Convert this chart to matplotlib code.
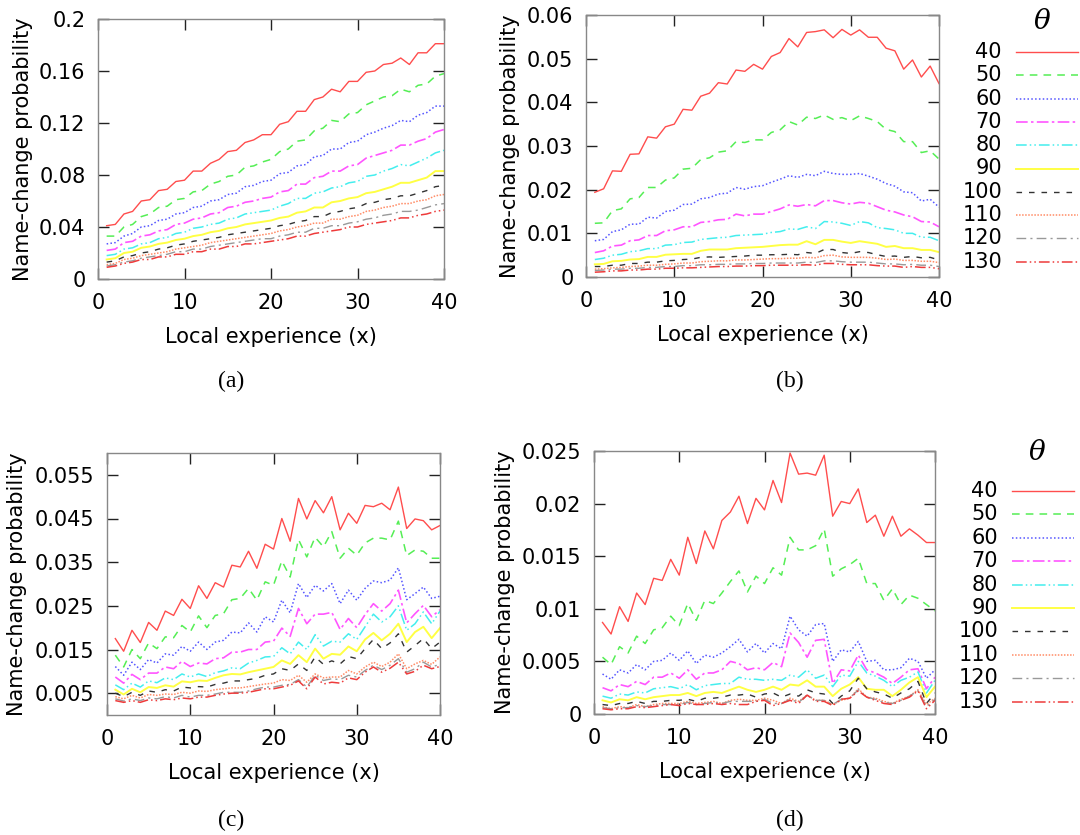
import matplotlib
matplotlib.use("Agg")
import matplotlib.pyplot as plt
import numpy as np

plt.rcParams['mathtext.fontset'] = 'dejavuserif'

x_exp = list(range(1, 41))
thetas = ["40", "50", "60", "70", "80", "90", "100", "110", "120", "130"]

# ---------------- panel (a) ----------------
a_40 = [0.041,0.042,0.050,0.052,0.060,0.061,0.068,0.069,0.075,0.076,0.083,0.083,0.089,0.092,0.098,0.099,0.105,0.107,0.111,0.111,
        0.119,0.121,0.129,0.129,0.138,0.140,0.146,0.144,0.152,0.152,0.159,0.160,0.165,0.166,0.170,0.165,0.174,0.174,0.181,0.181]
a_50 = [0.033,0.033,0.040,0.042,0.048,0.050,0.055,0.056,0.061,0.062,0.067,0.068,0.073,0.075,0.079,0.080,0.086,0.087,0.090,0.092,
        0.098,0.100,0.106,0.107,0.114,0.116,0.122,0.121,0.127,0.128,0.134,0.137,0.140,0.141,0.146,0.144,0.149,0.150,0.156,0.158]
a_60 = [0.027,0.028,0.033,0.035,0.040,0.041,0.045,0.046,0.050,0.051,0.055,0.056,0.060,0.061,0.065,0.066,0.071,0.072,0.075,0.076,
        0.081,0.082,0.087,0.088,0.094,0.095,0.100,0.100,0.105,0.106,0.111,0.113,0.116,0.118,0.122,0.121,0.126,0.128,0.133,0.133]
a_70 = [0.022,0.023,0.028,0.029,0.033,0.034,0.037,0.038,0.042,0.043,0.046,0.047,0.050,0.051,0.055,0.056,0.059,0.060,0.062,0.063,
        0.067,0.068,0.073,0.073,0.078,0.079,0.083,0.083,0.087,0.088,0.093,0.095,0.097,0.099,0.103,0.103,0.106,0.108,0.113,0.115]
a_80 = [0.018,0.019,0.023,0.024,0.027,0.028,0.031,0.032,0.035,0.036,0.039,0.040,0.042,0.043,0.046,0.047,0.050,0.051,0.052,0.053,
        0.056,0.058,0.062,0.062,0.066,0.067,0.070,0.071,0.074,0.075,0.079,0.080,0.083,0.085,0.088,0.087,0.090,0.093,0.097,0.099]
a_90 = [0.015,0.016,0.020,0.021,0.024,0.025,0.027,0.028,0.030,0.031,0.033,0.034,0.036,0.037,0.039,0.040,0.042,0.043,0.044,0.045,
        0.047,0.048,0.051,0.052,0.055,0.055,0.059,0.060,0.062,0.063,0.066,0.067,0.069,0.071,0.074,0.074,0.076,0.078,0.083,0.083]
a_100 = [0.013,0.014,0.017,0.018,0.020,0.021,0.023,0.024,0.026,0.027,0.029,0.030,0.031,0.032,0.034,0.035,0.036,0.037,0.038,0.039,
         0.041,0.042,0.044,0.045,0.048,0.048,0.051,0.052,0.054,0.055,0.058,0.059,0.061,0.062,0.064,0.064,0.066,0.068,0.071,0.072]
a_110 = [0.011,0.012,0.015,0.016,0.018,0.019,0.020,0.021,0.023,0.024,0.025,0.026,0.028,0.029,0.030,0.031,0.032,0.033,0.034,0.035,
         0.037,0.038,0.040,0.041,0.043,0.043,0.046,0.046,0.048,0.049,0.052,0.053,0.055,0.056,0.058,0.058,0.060,0.061,0.064,0.065]
a_120 = [0.010,0.011,0.013,0.014,0.016,0.017,0.018,0.019,0.021,0.021,0.023,0.023,0.025,0.026,0.027,0.028,0.029,0.030,0.031,0.031,
         0.033,0.034,0.036,0.036,0.039,0.039,0.041,0.041,0.043,0.044,0.046,0.047,0.049,0.050,0.052,0.052,0.053,0.055,0.057,0.058]
a_130 = [0.009,0.010,0.012,0.013,0.015,0.015,0.017,0.017,0.019,0.019,0.021,0.021,0.023,0.023,0.025,0.025,0.027,0.027,0.028,0.029,
         0.030,0.031,0.033,0.033,0.035,0.036,0.037,0.038,0.040,0.040,0.042,0.043,0.044,0.045,0.047,0.047,0.049,0.050,0.052,0.053]

# ---------------- panel (b) ----------------
b_40 = [0.0194,0.0202,0.0243,0.0242,0.0281,0.0282,0.0321,0.0318,0.0344,0.0350,0.0384,0.0382,0.0414,0.0421,0.0445,0.0442,0.0474,0.0471,0.0487,0.0476,
        0.0505,0.0514,0.0546,0.0527,0.0560,0.0562,0.0566,0.0548,0.0567,0.0554,0.0566,0.0549,0.0549,0.0524,0.0518,0.0476,0.0497,0.0458,0.0483,0.0443]
b_50 = [0.0123,0.0124,0.0152,0.0156,0.0179,0.0182,0.0205,0.0205,0.0222,0.0227,0.0247,0.0249,0.0269,0.0273,0.0286,0.0289,0.0310,0.0308,0.0314,0.0314,
        0.0331,0.0337,0.0356,0.0348,0.0366,0.0363,0.0371,0.0361,0.0365,0.0358,0.0369,0.0363,0.0356,0.0338,0.0333,0.0310,0.0310,0.0285,0.0289,0.0270]
b_60 = [0.0083,0.0086,0.0104,0.0108,0.0121,0.0121,0.0137,0.0135,0.0150,0.0153,0.0166,0.0167,0.0179,0.0182,0.0190,0.0192,0.0205,0.0201,0.0207,0.0209,
        0.0217,0.0224,0.0232,0.0228,0.0235,0.0232,0.0242,0.0237,0.0235,0.0235,0.0237,0.0231,0.0224,0.0214,0.0208,0.0195,0.0193,0.0174,0.0178,0.0160]
b_70 = [0.0056,0.0060,0.0071,0.0073,0.0083,0.0085,0.0095,0.0095,0.0106,0.0108,0.0115,0.0115,0.0125,0.0127,0.0131,0.0132,0.0144,0.0140,0.0144,0.0144,
        0.0150,0.0156,0.0165,0.0162,0.0166,0.0163,0.0175,0.0175,0.0170,0.0167,0.0171,0.0169,0.0161,0.0153,0.0149,0.0142,0.0138,0.0127,0.0126,0.0115]
b_80 = [0.0040,0.0043,0.0050,0.0052,0.0058,0.0060,0.0065,0.0065,0.0073,0.0074,0.0079,0.0080,0.0086,0.0088,0.0090,0.0091,0.0095,0.0096,0.0097,0.0098,
        0.0102,0.0104,0.0110,0.0109,0.0115,0.0111,0.0127,0.0126,0.0123,0.0118,0.0127,0.0124,0.0113,0.0111,0.0108,0.0100,0.0100,0.0091,0.0091,0.0083]
b_90 = [0.0029,0.0030,0.0036,0.0037,0.0040,0.0041,0.0046,0.0046,0.0051,0.0052,0.0053,0.0053,0.0060,0.0063,0.0063,0.0063,0.0066,0.0067,0.0068,0.0069,
        0.0071,0.0073,0.0074,0.0074,0.0082,0.0075,0.0085,0.0085,0.0081,0.0078,0.0082,0.0079,0.0076,0.0069,0.0071,0.0066,0.0066,0.0062,0.0062,0.0057]
b_100 = [0.0024,0.0024,0.0027,0.0027,0.0031,0.0031,0.0034,0.0034,0.0037,0.0038,0.0040,0.0041,0.0045,0.0046,0.0045,0.0046,0.0047,0.0048,0.0050,0.0050,
         0.0051,0.0051,0.0052,0.0051,0.0056,0.0054,0.0063,0.0063,0.0056,0.0054,0.0058,0.0056,0.0051,0.0047,0.0048,0.0045,0.0047,0.0044,0.0045,0.0039]
b_110 = [0.0018,0.0019,0.0021,0.0022,0.0024,0.0025,0.0027,0.0027,0.0029,0.0030,0.0032,0.0032,0.0035,0.0036,0.0037,0.0037,0.0039,0.0039,0.0040,0.0041,
         0.0042,0.0042,0.0043,0.0043,0.0045,0.0044,0.0049,0.0050,0.0046,0.0045,0.0045,0.0045,0.0043,0.0040,0.0041,0.0038,0.0038,0.0036,0.0036,0.0033]
b_120 = [0.0015,0.0016,0.0018,0.0018,0.0020,0.0020,0.0022,0.0022,0.0024,0.0024,0.0026,0.0026,0.0028,0.0028,0.0029,0.0029,0.0030,0.0030,0.0031,0.0031,
         0.0032,0.0032,0.0032,0.0032,0.0034,0.0033,0.0037,0.0037,0.0035,0.0034,0.0034,0.0034,0.0032,0.0030,0.0030,0.0028,0.0029,0.0027,0.0027,0.0024]
b_130 = [0.0011,0.0012,0.0014,0.0014,0.0016,0.0016,0.0018,0.0018,0.0020,0.0020,0.0021,0.0021,0.0022,0.0023,0.0024,0.0024,0.0025,0.0025,0.0026,0.0026,
         0.0027,0.0027,0.0027,0.0027,0.0028,0.0027,0.0031,0.0031,0.0029,0.0028,0.0028,0.0028,0.0026,0.0025,0.0025,0.0022,0.0024,0.0022,0.0022,0.0019]

# ---------------- panel (c) ----------------
c_40 = [0.0175,0.0146,0.0194,0.0166,0.0212,0.0194,0.0238,0.0228,0.0265,0.0244,0.0296,0.0267,0.0303,0.0293,0.0343,0.0339,0.0375,0.0336,0.0391,0.0380,
        0.0450,0.0398,0.0496,0.0449,0.0491,0.0463,0.0500,0.0424,0.0462,0.0439,0.0480,0.0477,0.0485,0.0470,0.0522,0.0427,0.0449,0.0445,0.0424,0.0434]
c_50 = [0.0137,0.0110,0.0150,0.0129,0.0165,0.0152,0.0179,0.0177,0.0205,0.0190,0.0227,0.0200,0.0228,0.0232,0.0264,0.0267,0.0290,0.0263,0.0305,0.0297,
        0.0353,0.0316,0.0402,0.0362,0.0407,0.0385,0.0420,0.0359,0.0382,0.0366,0.0394,0.0405,0.0405,0.0401,0.0444,0.0365,0.0378,0.0375,0.0359,0.0359]
c_60 = [0.0111,0.0091,0.0121,0.0104,0.0127,0.0119,0.0140,0.0137,0.0157,0.0146,0.0167,0.0150,0.0167,0.0171,0.0190,0.0188,0.0211,0.0190,0.0225,0.0213,
        0.0263,0.0234,0.0301,0.0269,0.0297,0.0284,0.0301,0.0255,0.0286,0.0263,0.0290,0.0307,0.0303,0.0309,0.0337,0.0264,0.0278,0.0293,0.0267,0.0272]
c_70 = [0.0087,0.0073,0.0093,0.0081,0.0096,0.0096,0.0110,0.0106,0.0123,0.0111,0.0119,0.0117,0.0129,0.0131,0.0144,0.0144,0.0150,0.0150,0.0167,0.0169,
        0.0199,0.0180,0.0244,0.0209,0.0231,0.0231,0.0235,0.0196,0.0221,0.0200,0.0230,0.0255,0.0238,0.0255,0.0286,0.0211,0.0232,0.0251,0.0225,0.0241]
c_80 = [0.0069,0.0058,0.0073,0.0064,0.0078,0.0074,0.0085,0.0081,0.0094,0.0087,0.0094,0.0088,0.0097,0.0101,0.0108,0.0106,0.0119,0.0125,0.0133,0.0134,
        0.0154,0.0140,0.0167,0.0150,0.0184,0.0158,0.0169,0.0167,0.0186,0.0173,0.0202,0.0231,0.0213,0.0225,0.0250,0.0194,0.0209,0.0236,0.0209,0.0238]
c_90 = [0.0058,0.0047,0.0060,0.0052,0.0064,0.0062,0.0068,0.0065,0.0077,0.0075,0.0079,0.0078,0.0085,0.0091,0.0094,0.0093,0.0098,0.0102,0.0106,0.0110,
        0.0125,0.0117,0.0137,0.0121,0.0152,0.0129,0.0140,0.0138,0.0157,0.0146,0.0173,0.0188,0.0171,0.0186,0.0209,0.0167,0.0190,0.0202,0.0176,0.0199]
c_100 = [0.0050,0.0042,0.0052,0.0045,0.0055,0.0052,0.0058,0.0055,0.0064,0.0062,0.0065,0.0064,0.0070,0.0073,0.0078,0.0078,0.0081,0.0084,0.0091,0.0094,
         0.0106,0.0102,0.0117,0.0102,0.0133,0.0116,0.0124,0.0117,0.0134,0.0129,0.0152,0.0173,0.0152,0.0165,0.0186,0.0144,0.0159,0.0175,0.0152,0.0167]
c_110 = [0.0042,0.0037,0.0045,0.0039,0.0047,0.0045,0.0048,0.0047,0.0052,0.0050,0.0055,0.0054,0.0058,0.0060,0.0062,0.0062,0.0065,0.0068,0.0071,0.0073,
         0.0081,0.0079,0.0091,0.0075,0.0094,0.0085,0.0087,0.0087,0.0102,0.0094,0.0110,0.0121,0.0111,0.0121,0.0140,0.0106,0.0117,0.0125,0.0116,0.0133]
c_120 = [0.0037,0.0032,0.0037,0.0033,0.0039,0.0037,0.0042,0.0039,0.0045,0.0041,0.0045,0.0045,0.0048,0.0052,0.0052,0.0052,0.0055,0.0060,0.0064,0.0064,
         0.0068,0.0070,0.0081,0.0064,0.0091,0.0079,0.0083,0.0081,0.0091,0.0087,0.0102,0.0114,0.0104,0.0114,0.0129,0.0098,0.0106,0.0121,0.0110,0.0116]
c_130 = [0.0033,0.0029,0.0033,0.0029,0.0035,0.0033,0.0037,0.0035,0.0039,0.0037,0.0041,0.0041,0.0045,0.0048,0.0050,0.0050,0.0052,0.0056,0.0060,0.0060,
         0.0064,0.0068,0.0078,0.0060,0.0087,0.0071,0.0075,0.0073,0.0085,0.0081,0.0098,0.0110,0.0098,0.0107,0.0121,0.0094,0.0100,0.0114,0.0106,0.0111]

# ---------------- panel (d) ----------------
d_40 = [0.0087,0.0076,0.0102,0.0088,0.0115,0.0104,0.0129,0.0127,0.0147,0.0132,0.0168,0.0143,0.0174,0.0157,0.0184,0.0192,0.0207,0.0181,0.0205,0.0194,
        0.0222,0.0201,0.0248,0.0228,0.0229,0.0227,0.0246,0.0188,0.0202,0.0200,0.0214,0.0182,0.0189,0.0169,0.0188,0.0169,0.0176,0.0170,0.0163,0.0163]
d_50 = [0.0054,0.0047,0.0064,0.0058,0.0074,0.0067,0.0080,0.0082,0.0093,0.0084,0.0105,0.0089,0.0108,0.0105,0.0115,0.0126,0.0136,0.0116,0.0131,0.0124,
        0.0139,0.0132,0.0168,0.0156,0.0156,0.0160,0.0176,0.0131,0.0138,0.0142,0.0148,0.0124,0.0124,0.0108,0.0119,0.0104,0.0113,0.0110,0.0104,0.0098]
d_60 = [0.0038,0.0033,0.0042,0.0039,0.0047,0.0042,0.0050,0.0051,0.0058,0.0051,0.0060,0.0048,0.0056,0.0054,0.0058,0.0064,0.0071,0.0059,0.0067,0.0058,
        0.0067,0.0062,0.0093,0.0080,0.0074,0.0085,0.0086,0.0050,0.0061,0.0059,0.0069,0.0050,0.0051,0.0042,0.0042,0.0044,0.0053,0.0050,0.0034,0.0042]
d_70 = [0.0025,0.0022,0.0028,0.0026,0.0031,0.0028,0.0035,0.0035,0.0039,0.0034,0.0042,0.0033,0.0039,0.0039,0.0042,0.0050,0.0048,0.0042,0.0044,0.0042,
        0.0049,0.0045,0.0077,0.0068,0.0054,0.0070,0.0071,0.0029,0.0042,0.0041,0.0056,0.0042,0.0039,0.0035,0.0029,0.0035,0.0042,0.0043,0.0024,0.0035]
d_80 = [0.0017,0.0015,0.0019,0.0018,0.0021,0.0020,0.0024,0.0025,0.0026,0.0024,0.0028,0.0023,0.0027,0.0028,0.0029,0.0029,0.0035,0.0033,0.0033,0.0032,
        0.0033,0.0032,0.0037,0.0035,0.0042,0.0034,0.0037,0.0026,0.0037,0.0036,0.0050,0.0039,0.0036,0.0032,0.0026,0.0032,0.0035,0.0040,0.0020,0.0032]
d_90 = [0.0013,0.0011,0.0014,0.0013,0.0016,0.0014,0.0016,0.0017,0.0018,0.0018,0.0020,0.0017,0.0020,0.0021,0.0020,0.0023,0.0026,0.0023,0.0021,0.0023,
        0.0026,0.0023,0.0028,0.0027,0.0032,0.0026,0.0026,0.0017,0.0024,0.0028,0.0035,0.0024,0.0023,0.0023,0.0017,0.0023,0.0030,0.0035,0.0016,0.0026]
d_100 = [0.0009,0.0008,0.0010,0.0010,0.0012,0.0010,0.0012,0.0012,0.0013,0.0013,0.0014,0.0012,0.0015,0.0015,0.0016,0.0018,0.0018,0.0019,0.0016,0.0019,
         0.0020,0.0016,0.0019,0.0017,0.0023,0.0020,0.0019,0.0010,0.0017,0.0022,0.0034,0.0024,0.0021,0.0019,0.0015,0.0020,0.0024,0.0031,0.0010,0.0020]
d_110 = [0.0007,0.0005,0.0007,0.0006,0.0009,0.0007,0.0009,0.0010,0.0010,0.0010,0.0012,0.0010,0.0011,0.0012,0.0010,0.0013,0.0014,0.0013,0.0013,0.0015,
         0.0013,0.0010,0.0015,0.0012,0.0018,0.0013,0.0013,0.0009,0.0013,0.0015,0.0024,0.0016,0.0015,0.0012,0.0010,0.0014,0.0017,0.0023,0.0009,0.0015]
d_120 = [0.0006,0.0005,0.0006,0.0006,0.0008,0.0007,0.0008,0.0009,0.0009,0.0009,0.0011,0.0009,0.0010,0.0011,0.0010,0.0012,0.0012,0.0012,0.0012,0.0014,
         0.0010,0.0010,0.0014,0.0011,0.0018,0.0013,0.0013,0.0009,0.0014,0.0015,0.0023,0.0016,0.0014,0.0011,0.0010,0.0013,0.0017,0.0022,0.0007,0.0014]
d_130 = [0.0005,0.0004,0.0005,0.0005,0.0007,0.0006,0.0007,0.0008,0.0009,0.0008,0.0010,0.0009,0.0009,0.0010,0.0009,0.0010,0.0009,0.0009,0.0012,0.0013,
         0.0008,0.0010,0.0013,0.0010,0.0018,0.0012,0.0012,0.0008,0.0014,0.0015,0.0022,0.0016,0.0013,0.0010,0.0009,0.0013,0.0016,0.0022,0.0005,0.0013]

panel_a = [a_40, a_50, a_60, a_70, a_80, a_90, a_100, a_110, a_120, a_130]
panel_b = [b_40, b_50, b_60, b_70, b_80, b_90, b_100, b_110, b_120, b_130]
panel_c = [c_40, c_50, c_60, c_70, c_80, c_90, c_100, c_110, c_120, c_130]
panel_d = [d_40, d_50, d_60, d_70, d_80, d_90, d_100, d_110, d_120, d_130]

# styles (gnuplot-like)
colors = ['#ff4d4d', '#55ee55', '#5555ff', '#ff55ff', '#44eeee',
          '#ffff44', '#333333', '#ff8c66', '#999999', '#ee3b3b']
styles = ['-', (0, (5, 4)), (0, (1, 1.5)), (0, (7, 2, 1.5, 2)), (0, (7, 2, 1, 2, 1, 2)),
          '-', (0, (4, 5)), (0, (1, 1)), (0, (7, 3, 1.5, 3)), (0, (7, 2, 1, 2, 1, 2))]
widths = [1.0, 1.1, 1.1, 1.2, 1.1, 1.4, 1.0, 1.1, 1.0, 1.1]

FS = 15
W, H = 1080, 835
fig = plt.figure(figsize=(W / 100, H / 100), dpi=100)


def px_axes(x0, y0, x1, y1):
    return fig.add_axes([x0 / W, 1 - y1 / H, (x1 - x0) / W, (y1 - y0) / H])


def setup(ax, data, ylim, yticks, ylabels, box, ylab_off, cap, capx, capy):
    for vals, c, ls, lw in zip(data, colors, styles, widths):
        ax.plot(x_exp, vals, color=c, linestyle=ls, linewidth=lw)
    ax.set_xlim(0, 40)
    ax.set_ylim(*ylim)
    ax.set_xticks([0, 10, 20, 30, 40])
    ax.set_yticks(yticks)
    ax.set_yticklabels(ylabels)
    ax.tick_params(direction='in', length=8, width=1.0, color='#222222',
                   top=True, right=True, labelsize=FS, pad=9)
    ax.tick_params(axis='x', pad=10)
    for s in ax.spines.values():
        s.set_color('#888888')
        s.set_linewidth(1.0)
    wpx = box[2] - box[0]
    hpx = box[3] - box[1]
    ax.set_ylabel('Name-change probability', fontsize=FS)
    ax.yaxis.set_label_coords(-ylab_off / wpx, 0.5)
    ax.set_xlabel('Local experience (x)', fontsize=FS)
    ax.xaxis.set_label_coords(0.5, -48 / hpx)
    fig.text(capx / W, 1 - capy / H, cap, fontsize=17, family='Liberation Serif',
             ha='center', va='center')


box_a = (98, 19, 444, 279)
box_b = (586, 15, 939, 277)
box_c = (107, 453, 440, 715)
box_d = (594, 451, 935, 714)

ax_a = px_axes(*box_a)
setup(ax_a, panel_a, (0, 0.2), [0, 0.04, 0.08, 0.12, 0.16, 0.2],
      ['0', '0.04', '0.08', '0.12', '0.16', '0.2'], box_a, 65, '(a)', 231, 381)
ax_b = px_axes(*box_b)
setup(ax_b, panel_b, (0, 0.06), [0, 0.01, 0.02, 0.03, 0.04, 0.05, 0.06],
      ['0', '0.01', '0.02', '0.03', '0.04', '0.05', '0.06'], box_b, 66, '(b)', 790, 381)
ax_c = px_axes(*box_c)
setup(ax_c, panel_c, (0, 0.06), [0.005, 0.015, 0.025, 0.035, 0.045, 0.055],
      ['0.005', '0.015', '0.025', '0.035', '0.045', '0.055'], box_c, 80, '(c)', 231, 820)
ax_d = px_axes(*box_d)
setup(ax_d, panel_d, (0, 0.025), [0, 0.005, 0.01, 0.015, 0.02, 0.025],
      ['0', '0.005', '0.01', '0.015', '0.02', '0.025'], box_d, 79, '(d)', 790, 820)

# legends drawn in a full-figure overlay axes (pixel coordinates)
lg = fig.add_axes([0, 0, 1, 1])
lg.set_xlim(0, W)
lg.set_ylim(H, 0)
lg.axis('off')


def legend(title_xy, text_right, line_x0, line_x1, row0, step):
    lg.text(title_xy[0], title_xy[1], r'$\theta$', fontsize=20, ha='center', va='center')
    for i, (lab, c, ls, lw) in enumerate(zip(thetas, colors, styles, widths)):
        yy = row0 + i * step
        lg.text(text_right, yy, lab, fontsize=FS, ha='right', va='center')
        lg.plot([line_x0, line_x1], [yy, yy], color=c, linestyle=ls, linewidth=lw)


legend((1042, 21), 1002, 1016, 1078, 52, 23.3)
legend((1037, 452), 998, 1012, 1074, 491, 23.4)

fig.savefig('out.png', dpi=100)
